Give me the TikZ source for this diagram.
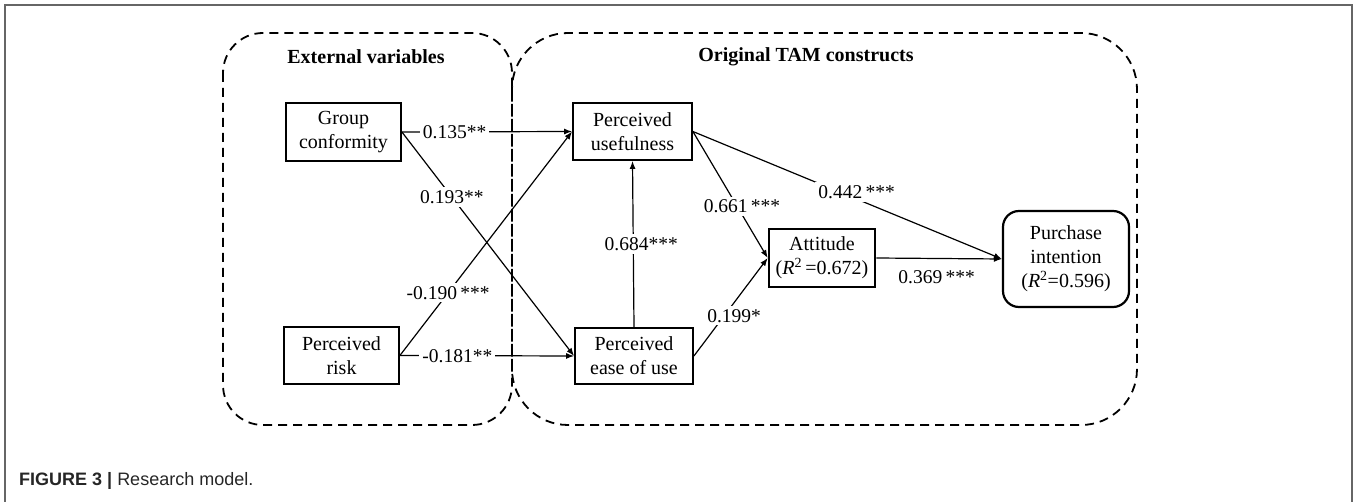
\documentclass[tikz,border=0pt]{standalone}
\usepackage{fontspec}
\setmainfont{Liberation Serif}
\setsansfont{Liberation Sans}
\usetikzlibrary{arrows.meta}
\begin{document}
\begin{tikzpicture}[x=1pt,y=-1pt,
  every node/.style={font=\fontsize{20}{24}\selectfont},
  var/.style={draw, line width=1.8pt, align=center, inner sep=0pt},
  grp/.style={draw, line width=1.8pt, dash pattern=on 9pt off 6pt},
  edge/.style={line width=1.2pt, -{Latex[length=8pt,width=6pt]}},
  lbl/.style={fill=white, inner sep=3pt, font=\fontsize{19.5}{22}\selectfont},
  ttl/.style={font=\fontsize{20}{24}\selectfont\bfseries}]
\useasboundingbox (0,0) rectangle (1355,502);
% outer frame
\draw[line width=1.5pt, gray!80!black] (5,502) -- (5,5) -- (1352,5) -- (1352,502);
% group boxes
\draw[grp, rounded corners=40pt] (223,33) rectangle (512,425);
\draw[grp, rounded corners=56pt] (512,33) rectangle (1137,425);
\node[ttl] (tev) at (366,57) {External variables};
\node[ttl] (ttam) at (806,57) {Original TAM constructs};
% variables
\node[var, minimum width=115pt, minimum height=58pt] (gc) at (343.5,132) {Group\\conformity};
\node[var, minimum width=115pt, minimum height=57pt] (pr) at (341.5,355.5) {Perceived\\risk};
\node[var, minimum width=119pt, minimum height=57pt] (pu) at (632.5,131.5) {Perceived\\usefulness};
\node[var, minimum width=118pt, minimum height=56pt] (pe) at (634,356) {Perceived\\ease of use};
\node[var, line width=2.6pt, minimum width=106pt, minimum height=58pt] (att) at (822,258) {Attitude\\(\textit{R}\textsuperscript{2}\,=0.672)};
\node[var, line width=2.2pt, rounded corners=16pt, minimum width=126pt, minimum height=96pt] (pi) at (1066,259) {Purchase\\intention\\(\textit{R}\textsuperscript{2}=0.596)};
% edges
\draw[edge] (gc.east) -- node[lbl, pos=0.31] (l1) {0.135**} (pu.west);
\draw[edge] (gc.east) -- node[lbl, pos=0.29] (l2) {0.193**} (pe.west);
\draw[edge] (pr.east) -- node[lbl, pos=0.28] (l3) {-0.190\,***} (pu.west);
\draw[edge] (pr.east) -- node[lbl, pos=0.33] (l4) {-0.181**} (pe.west);
\draw[edge] (pe.north) -- node[lbl, pos=0.5, xshift=8pt] (l5) {0.684***} (pu.south);
\draw[edge] (pu.east) -- node[lbl, pos=0.59, xshift=5pt] (l6) {0.661\,***} (att.west);
\draw[edge] (pe.east) -- node[lbl, pos=0.41, xshift=10pt] (l7) {0.199*} (att.west);
\draw[edge] (pu.east) -- node[lbl, pos=0.53, yshift=7pt] (l8) {0.442\,***} (pi.west);
\draw[edge] (att.east) -- node[below=9pt, inner sep=2pt, pos=0.48, font=\fontsize{19.5}{22}\selectfont] (l9) {0.369\,***} (pi.west);
% caption
\node[anchor=base west, inner sep=0pt, font=\sffamily\fontsize{18}{20}\selectfont, text=black!85] (cap) at (19,485) {\textbf{FIGURE 3 |} Research model.};
\end{tikzpicture}
\end{document}
